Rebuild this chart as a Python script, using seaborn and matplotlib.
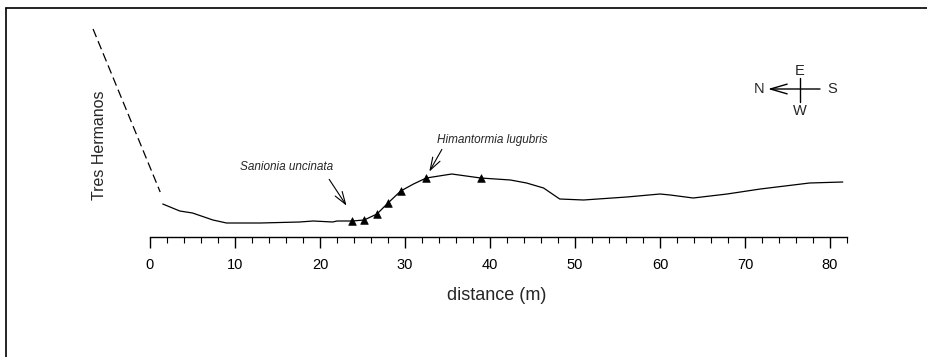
import matplotlib
matplotlib.use("Agg")
import matplotlib.pyplot as plt
from matplotlib.lines import Line2D
import seaborn as sns
import pandas as pd

# ---- data (distance in m, relative elevation in arbitrary units) ----
profile_distance = [1.5, 3.5, 5.0, 7.4, 9.0, 13.0, 17.6, 19.2, 21.5, 22.0, 23.8, 25.2,
                    26.7, 28.0, 29.5, 31.0, 32.5, 35.5, 38.9, 42.4, 44.3, 46.3, 48.2,
                    51.0, 56.1, 60.0, 61.2, 63.9, 67.9, 71.8, 77.6, 81.5]
profile_elev = [33, 26, 24, 17, 14, 14, 15, 16, 15, 16, 16, 17,
                23, 34, 46, 53, 59, 63, 59, 57, 54, 49, 38,
                37, 40, 43, 42, 39, 43, 48, 54, 55]
hill_distance = [-6.7, 1.2]
hill_elev = [208, 45]
sample_distance = [23.8, 25.2, 26.7, 28.0, 29.5, 32.5, 38.9]
sample_elev = [16, 17, 23, 34, 46, 59, 59]
x_major_ticks = [0, 10, 20, 30, 40, 50, 60, 70, 80]
x_minor_ticks = list(range(0, 83, 2))
species_labels = ["Sanionia uncinata", "Himantormia lugubris"]
compass_labels = ["N", "S", "E", "W"]

sns.set_style("white")
plt.rcParams["font.family"] = ["Liberation Sans", "DejaVu Sans"]

fig = plt.figure(figsize=(9.27, 3.57), dpi=100)
W, H = 927, 357
ax_left, ax_right, ax_bottom_px, ax_top_px = 60, 880, 237, 20
ax = fig.add_axes([ax_left / W, (H - ax_bottom_px) / H,
                   (ax_right - ax_left) / W, (ax_bottom_px - ax_top_px) / H])

px_per_m = 8.5
x0_px = 150
ax.set_xlim((ax_left - x0_px) / px_per_m, (ax_right - x0_px) / px_per_m)
ax.set_ylim(0, ax_bottom_px - ax_top_px)

prof = pd.DataFrame({"distance": profile_distance, "elev": profile_elev})
hill = pd.DataFrame({"distance": hill_distance, "elev": hill_elev})
samp = pd.DataFrame({"distance": sample_distance, "elev": sample_elev})

sns.lineplot(data=prof, x="distance", y="elev", sort=False, color="black",
             linewidth=0.9, ax=ax)
sns.lineplot(data=hill, x="distance", y="elev", sort=False, color="black",
             linewidth=0.9, ax=ax)
ax.lines[-1].set_dashes([7, 3.5])
sns.scatterplot(data=samp, x="distance", y="elev", marker="^", color="black",
                s=30, edgecolor="black", linewidth=0.5, ax=ax, zorder=5)

# axis styling
for s in ["left", "right", "top"]:
    ax.spines[s].set_visible(False)
ax.spines["bottom"].set_bounds(0, 82)
ax.spines["bottom"].set_linewidth(1.0)
ax.spines["bottom"].set_color("black")
ax.set_xticks(x_major_ticks)
ax.set_xticks(x_minor_ticks, minor=True)
ax.tick_params(axis="x", which="both", bottom=True)
ax.tick_params(axis="x", which="major", direction="out", length=8, width=1,
               colors="black", labelsize=10.5, pad=7)
ax.tick_params(axis="x", which="minor", direction="out", length=4, width=0.8,
               colors="black")
ax.set_yticks([])
ax.set_ylabel("")

ax.set_xlabel("distance (m)", fontsize=13)
ax.xaxis.set_label_coords((497 - ax_left) / (ax_right - ax_left),
                          (ax_bottom_px - 296) / (ax_bottom_px - ax_top_px))
ax.xaxis.label.set_va("center")

fig.text(100 / W, 1 - 145 / H, "Tres Hermanos", rotation=90, fontsize=11.5,
         ha="center", va="center")

# species annotations
ax.annotate("", xy=(23.3, 29), xytext=(20.9, 60),
            arrowprops=dict(arrowstyle="->,head_length=0.9,head_width=0.3",
                            color="black", lw=0.8))
ax.text((287 - x0_px) / px_per_m, ax_bottom_px - 167, species_labels[0],
        fontsize=8.5, style="italic", ha="center", va="center")
ax.annotate("", xy=(32.7, 63), xytext=(34.5, 90),
            arrowprops=dict(arrowstyle="->,head_length=0.9,head_width=0.3",
                            color="black", lw=0.8))
ax.text((492 - x0_px) / px_per_m, ax_bottom_px - 140, species_labels[1],
        fontsize=8.5, style="italic", ha="center", va="center")

# compass
cx, cy = (800 - x0_px) / px_per_m, ax_bottom_px - 89
ax.annotate("", xy=((768 - x0_px) / px_per_m, cy), xytext=((820 - x0_px) / px_per_m, cy),
            arrowprops=dict(arrowstyle="->,head_length=1.2,head_width=0.35",
                            color="black", lw=1.0, shrinkA=0, shrinkB=0))
ax.plot([cx, cx], [ax_bottom_px - 78, ax_bottom_px - 102], color="black", lw=1.0)
ax.text((759 - x0_px) / px_per_m, cy, compass_labels[0], fontsize=10.5, ha="center", va="center")
ax.text((832 - x0_px) / px_per_m, cy, compass_labels[1], fontsize=10.5, ha="center", va="center")
ax.text(cx, ax_bottom_px - 71, compass_labels[2], fontsize=10.5, ha="center", va="center")
ax.text(cx, ax_bottom_px - 111, compass_labels[3], fontsize=10.5, ha="center", va="center")

# frame lines (left and top) of the scanned figure
fig.add_artist(Line2D([6 / W, 6 / W], [0, 1 - 8 / H], color="black", lw=1.2))
fig.add_artist(Line2D([6 / W, 1], [1 - 8 / H, 1 - 8 / H], color="black", lw=1.2))

fig.savefig("out.png", dpi=100)
